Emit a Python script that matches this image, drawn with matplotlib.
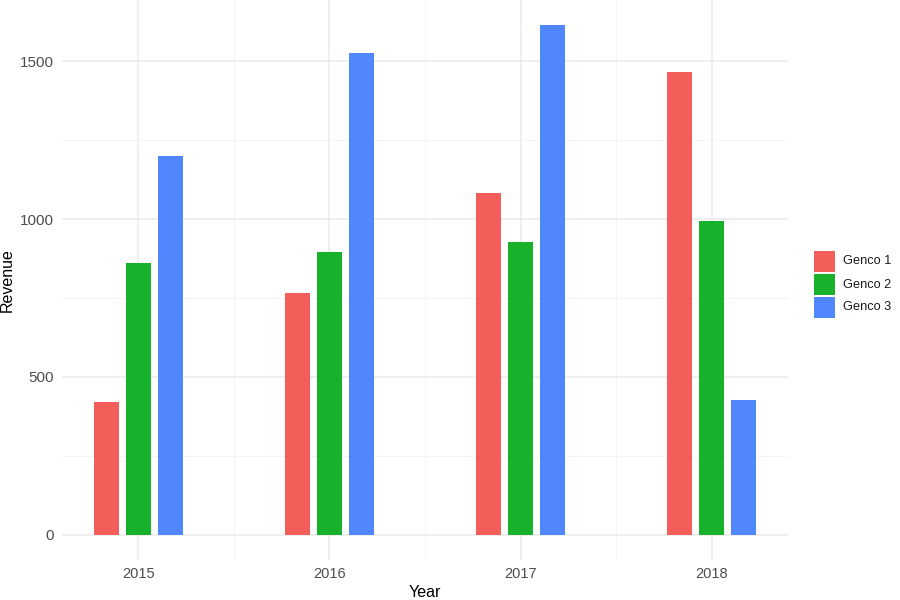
import matplotlib
matplotlib.use('Agg')
import matplotlib.pyplot as plt
from matplotlib.patches import Rectangle
import numpy as np

plt.rcParams['font.family'] = ['Liberation Sans', 'DejaVu Sans']

years = ['2015', '2016', '2017', '2018']
genco_names = ['Genco 1', 'Genco 2', 'Genco 3']
genco1 = [421, 766, 1082, 1465]
genco2 = [861, 896, 927, 994]
genco3 = [1199, 1528, 1614, 427]
colors = ['#F35E5A', '#17B12B', '#5087FF']

W, H = 900, 600
fig = plt.figure(figsize=(9, 6), dpi=100)
ax = fig.add_axes([62 / W, 40 / H, (788 - 62) / W, 560 / H])

x = np.arange(1, len(years) + 1)
dodge = 0.5 / 3
width = 0.4 / 3
for i, (vals, name) in enumerate(zip([genco1, genco2, genco3], genco_names)):
    ax.bar(x + (i - 1) * dodge, vals, width=width, color=colors[i],
           label=name, zorder=3)

top = max(genco1 + genco2 + genco3)
pad = top * 0.05
ax.set_ylim(-pad, top + pad)
ax.set_xlim(0.6, 4.4)

ax.set_xticks(x)
ax.set_xticklabels(years)
ax.set_xticks(x[:-1] + 0.5, minor=True)
ax.set_yticks([0, 500, 1000, 1500])
ax.set_yticks([250, 750, 1250], minor=True)

ax.grid(True, which='major', color='#EBEBEB', linewidth=1.1, zorder=0)
ax.grid(True, which='minor', color='#F3F3F3', linewidth=0.6, zorder=0)
ax.tick_params(which='both', length=0)
ax.tick_params(axis='x', labelsize=10.5, colors='#4D4D4D', pad=5)
ax.tick_params(axis='y', labelsize=11, colors='#4D4D4D', pad=6)
for s in ax.spines.values():
    s.set_visible(False)

ax.set_xlabel('Year', fontsize=11.5, labelpad=3)
ax.set_ylabel('Revenue', fontsize=11.5, va='center')
# put the y label near the left edge of the figure
ax.yaxis.set_label_coords((7 - 62) / (788 - 62), 0.5)

# legend drawn by hand (ggplot style keys)
key = 21
for i, (c, name) in enumerate(zip(colors, genco_names)):
    y_top = 251 + i * 23
    fig.add_artist(Rectangle((814 / W, 1 - (y_top + key) / H), key / W, key / H,
                             transform=fig.transFigure, facecolor=c,
                             edgecolor='none'))
    fig.text(843 / W, 1 - (y_top + key / 2) / H, name, fontsize=9.2,
             va='center', ha='left', color='#1A1A1A')

fig.savefig('out.png', dpi=100)
